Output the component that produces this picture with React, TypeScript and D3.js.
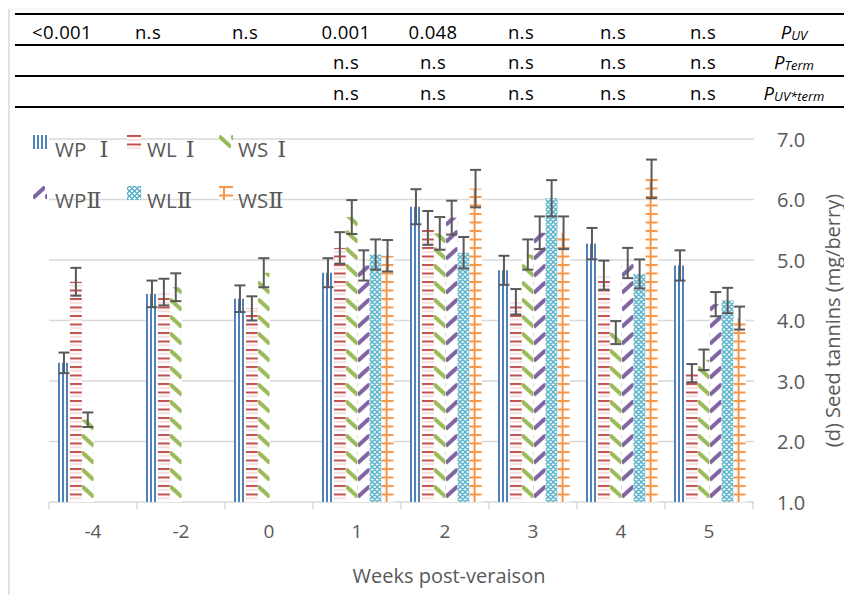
import React from "react";
import * as d3 from "d3";

const categories = ["-4", "-2", "0", "1", "2", "3", "4", "5"];
const seriesBase = ["WP", "WL", "WS", "WP", "WL", "WS"];
const seriesNum = [" Ⅰ", " Ⅰ", " Ⅰ", "Ⅱ", "Ⅱ", "Ⅱ"];
const seriesNames = ["WP Ⅰ", "WL Ⅰ", "WS Ⅰ", "WPⅡ", "WLⅡ", "WSⅡ"];

const wp1 = [3.3, 4.44, 4.36, 4.79, 5.88, 4.83, 5.27, 4.91];
const wp1Err = [0.17, 0.22, 0.22, 0.24, 0.29, 0.24, 0.26, 0.25];
const wl1 = [4.64, 4.47, 4.2, 5.2, 5.53, 4.31, 4.75, 3.13];
const wl1Err = [0.23, 0.22, 0.2, 0.26, 0.28, 0.21, 0.24, 0.15];
const ws1 = [2.36, 4.55, 4.79, 5.71, 5.44, 5.09, 3.8, 3.35];
const ws1Err = [0.12, 0.23, 0.24, 0.28, 0.27, 0.25, 0.19, 0.17];
const wp2 = [null, null, null, 4.91, 5.7, 5.45, 4.95, 4.27];
const wp2Err = [null, null, null, 0.25, 0.28, 0.27, 0.25, 0.2];
const wl2 = [null, null, null, 5.09, 5.12, 6.02, 4.77, 4.33];
const wl2Err = [null, null, null, 0.25, 0.26, 0.3, 0.24, 0.21];
const ws2 = [null, null, null, 5.07, 6.18, 5.45, 6.34, 4.04];
const ws2Err = [null, null, null, 0.26, 0.31, 0.27, 0.32, 0.19];

const yTicks = [1, 2, 3, 4, 5, 6, 7];

const pUV = ["<0.001", "n.s", "n.s", "0.001", "0.048", "n.s", "n.s", "n.s"];
const pTerm = ["", "", "", "n.s", "n.s", "n.s", "n.s", "n.s"];
const pUVTerm = ["", "", "", "n.s", "n.s", "n.s", "n.s", "n.s"];

const values = [wp1, wl1, ws1, wp2, wl2, ws2];
const errors = [wp1Err, wl1Err, ws1Err, wp2Err, wl2Err, ws2Err];

// layout
const W = 844;
const H = 595;
const plotL = 49;
const plotR = 753;
const plotT = 139;
const plotB = 502;
const tableColX = [62, 148, 245, 346, 433, 521, 613, 703];
const tableLabelX = 794;
const TEXT = "#595959";
const GRID = "#D9D9D9";
const FONT = "'Open Sans', 'Noto Sans CJK SC', sans-serif";
const NUMFONT = "'DejaVu Serif', 'Liberation Serif', serif";

const colors = ["#4F81BD", "#C0504D", "#9BBB59", "#8064A2", "#4BACC6", "#F79646"];

function Pattern({ id, s, x0, y0 }: { id: string; s: number; x0: number; y0: number }) {
  const c = colors[s];
  if (s === 0) {
    return (
      <pattern id={id} patternUnits="userSpaceOnUse" x={x0} y={y0} width={4} height={4}>
        <rect width={4} height={4} fill="#fff" />
        <rect x={0} width={2} height={4} fill={c} />
      </pattern>
    );
  }
  if (s === 1) {
    return (
      <pattern id={id} patternUnits="userSpaceOnUse" x={x0} y={y0} width={12} height={8.5}>
        <rect width={12} height={8.5} fill="#fff" />
        <rect y={0} width={12} height={2} fill={c} />
        <rect y={4.25} width={12} height={1} fill="#EBC2C1" />
      </pattern>
    );
  }
  if (s === 2) {
    return (
      <pattern id={id} patternUnits="userSpaceOnUse" x={x0} y={y0} width={12} height={17}>
        <rect width={12} height={17} fill="#fff" />
        <line x1={0} y1={1} x2={12} y2={12} stroke={c} strokeWidth={4} />
      </pattern>
    );
  }
  if (s === 3) {
    return (
      <pattern id={id} patternUnits="userSpaceOnUse" x={x0} y={y0} width={12} height={17}>
        <rect width={12} height={17} fill="#fff" />
        <line x1={0} y1={12} x2={12} y2={1} stroke={c} strokeWidth={4} />
      </pattern>
    );
  }
  if (s === 4) {
    return (
      <pattern id={id} patternUnits="userSpaceOnUse" x={x0} y={y0} width={5} height={5}>
        <rect width={5} height={5} fill="#fff" />
        <path d="M2.5 0 L5 2.5 L2.5 5 L0 2.5 Z" fill="none" stroke={c} strokeWidth={1.3} />
      </pattern>
    );
  }
  return (
    <pattern id={id} patternUnits="userSpaceOnUse" x={x0} y={y0} width={12} height={8.5}>
      <rect width={12} height={8.5} fill="#fff" />
      <rect x={4} y={0} width={2} height={8.5} fill={c} />
      <rect x={0} y={0} width={12} height={2} fill={c} />
    </pattern>
  );
}

export default function App() {
  const x0 = d3.scaleBand<string>().domain(categories).range([plotL, plotR]).padding(0);
  const x1 = d3
    .scaleBand<string>()
    .domain(seriesNames)
    .range([9, x0.bandwidth() - 7.5])
    .padding(0);
  const y = d3.scaleLinear().domain([1, 7]).range([plotB, plotT]);
  const bw = x1.bandwidth();

  const bars: any[] = [];
  const errs: any[] = [];
  const defs: any[] = [];
  values.forEach((arr, s) => {
    arr.forEach((v, i) => {
      if (v == null) return;
      const bx = (x0(categories[i]) as number) + (x1(seriesNames[s]) as number);
      const id = `p${s}_${i}`;
      defs.push(<Pattern key={id} id={id} s={s} x0={bx} y0={plotB} />);
      bars.push(
        <rect key={`b${s}_${i}`} x={bx} y={y(v)} width={bw} height={plotB - y(v)} fill={`url(#${id})`} />
      );
      const e = errors[s][i] as number;
      const cx = bx + bw / 2;
      errs.push(
        <g key={`e${s}_${i}`} stroke="#595959" strokeWidth={2}>
          <line x1={cx} x2={cx} y1={y(v + e)} y2={y(v - e)} />
          <line x1={cx - 5.5} x2={cx + 5.5} y1={y(v + e)} y2={y(v + e)} />
          <line x1={cx - 5.5} x2={cx + 5.5} y1={y(v - e)} y2={y(v - e)} />
        </g>
      );
    });
  });

  const legendX = [33, 127, 219];
  const legendTextX = [55, 147, 238];
  const legendY = [135, 186];
  const numDx = [6, 2, 2, 0, 0, 0];
  seriesNames.forEach((n, s) => {
    const col = s % 3;
    const row = Math.floor(s / 3);
    defs.push(<Pattern key={`lg${s}`} id={`lg${s}`} s={s} x0={legendX[col]} y0={legendY[row]} />);
  });

  const tableRows = [pUV, pTerm, pUVTerm];
  const rowY = [31, 61, 92];

  return (
    <svg
      width={W}
      height={H}
      style={{ position: "absolute", left: 0, top: 0, background: "#fff" }}
      fontFamily={FONT}
    >
      <defs>{defs}</defs>
      <rect width={W} height={H} fill="#fff" />
      {/* outer border */}
      <line x1={9} x2={9} y1={9} y2={H} stroke={GRID} strokeWidth={1.5} />
      <line x1={9} x2={W} y1={9} y2={9} stroke="#EEEEEE" strokeWidth={1} />

      {/* table */}
      {[14, 45, 76, 107].map((ly) => (
        <line key={ly} x1={15} x2={W} y1={ly} y2={ly} stroke="#000" strokeWidth={2} />
      ))}
      {tableRows.map((row, r) =>
        row.map((t, i) =>
          t ? (
            <text
              key={`t${r}_${i}`}
              x={tableColX[i]}
              y={rowY[r]}
              textAnchor="middle"
              dominantBaseline="central"
              fontSize={18.5}
              letterSpacing={0.4}
              fill="#000"
            >
              {t}
            </text>
          ) : null
        )
      )}
      <text x={tableLabelX} y={rowY[0]} textAnchor="middle" dominantBaseline="central" fontSize={18.5} fontStyle="italic">
        P<tspan fontSize={13} dy={4}>UV</tspan>
      </text>
      <text x={tableLabelX} y={rowY[1]} textAnchor="middle" dominantBaseline="central" fontSize={18.5} fontStyle="italic">
        P<tspan fontSize={13} dy={4}>Term</tspan>
      </text>
      <text x={tableLabelX} y={rowY[2]} textAnchor="middle" dominantBaseline="central" fontSize={18.5} fontStyle="italic">
        P<tspan fontSize={13} dy={4}>UV*term</tspan>
      </text>

      {/* gridlines */}
      {yTicks.map((t) => (
        <line key={`g${t}`} x1={plotL} x2={plotR + 1} y1={y(t)} y2={y(t)} stroke={GRID} strokeWidth={1.5} />
      ))}
      {/* category ticks */}
      {d3.range(categories.length + 1).map((k) => {
        const tx = plotL + k * x0.bandwidth();
        return <line key={`ct${k}`} x1={tx} x2={tx} y1={plotB} y2={plotB + 7} stroke={GRID} strokeWidth={1.5} />;
      })}

      {/* legend */}
      {seriesNames.map((n, s) => {
        const col = s % 3;
        const row = Math.floor(s / 3);
        return (
          <g key={`l${s}`}>
            <rect x={legendX[col]} y={legendY[row]} width={14} height={14} fill={`url(#lg${s})`} />
            <text x={legendTextX[col]} y={legendY[row] + 22} fontSize={20.5} fill={TEXT}>
              {seriesBase[s]}
              <tspan fontFamily={NUMFONT} fontSize={22.5} dx={numDx[s]}>
                {seriesNum[s]}
              </tspan>
            </text>
          </g>
        );
      })}

      {bars}
      {errs}

      {/* y tick labels */}
      {yTicks.map((t) => (
        <text key={`yl${t}`} x={777} y={y(t)} dominantBaseline="central" fontSize={20} fill={TEXT}>
          {d3.format(".1f")(t)}
        </text>
      ))}
      {/* x tick labels */}
      {categories.map((c) => (
        <text
          key={`xl${c}`}
          x={(x0(c) as number) + x0.bandwidth() / 2}
          y={531}
          textAnchor="middle"
          dominantBaseline="central"
          fontSize={19}
          fill={TEXT}
        >
          {c}
        </text>
      ))}
      <text x={449} y={575} textAnchor="middle" dominantBaseline="central" fontSize={20} fill={TEXT}>
        Weeks post-veraison
      </text>
      <text
        transform={`translate(832,${(plotT + plotB) / 2}) rotate(-90)`}
        textAnchor="middle"
        dominantBaseline="central"
        fontSize={20}
        fill={TEXT}
      >
        (d) Seed tannins (mg/berry)
      </text>
    </svg>
  );
}
